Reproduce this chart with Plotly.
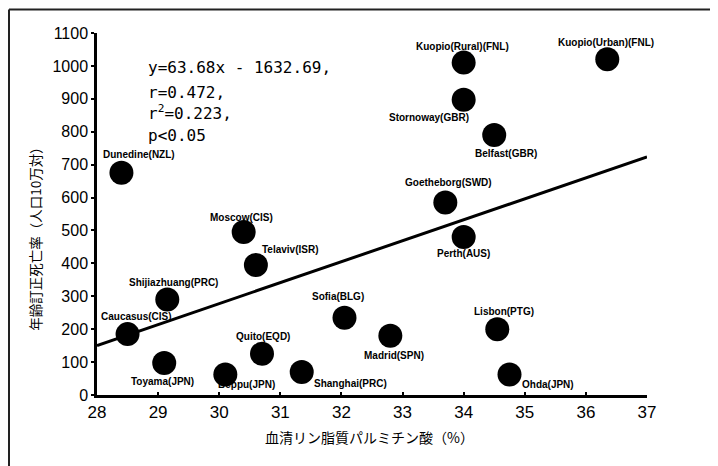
import plotly.graph_objects as go

# ---- data ----
sites = ["Dunedine(NZL)", "Moscow(CIS)", "Telaviv(ISR)", "Shijiazhuang(PRC)", "Caucasus(CIS)",
         "Toyama(JPN)", "Beppu(JPN)", "Quito(EQD)", "Shanghai(PRC)", "Sofia(BLG)",
         "Madrid(SPN)", "Lisbon(PTG)", "Ohda(JPN)", "Perth(AUS)", "Goetheborg(SWD)",
         "Belfast(GBR)", "Stornoway(GBR)", "Kuopio(Rural)(FNL)", "Kuopio(Urban)(FNL)"]
palmitic = [28.4, 30.4, 30.6, 29.15, 28.5,
            29.1, 30.1, 30.7, 31.35, 32.05,
            32.8, 34.55, 34.75, 34.0, 33.7,
            34.5, 34.0, 34.0, 36.35]
mortality = [675, 495, 395, 290, 185,
             97, 62, 125, 70, 235,
             180, 200, 62, 480, 585,
             790, 897, 1010, 1020]
slope, intercept = 63.68, -1632.69
line_x = [28, 37]
x_ticks = [28, 29, 30, 31, 32, 33, 34, 35, 36, 37]
y_ticks = [0, 100, 200, 300, 400, 500, 600, 700, 800, 900, 1000, 1100]
stats_lines = ["y=63.68x - 1632.69,", "r=0.472,", "r<sup>2</sup>=0.223,", "p<0.05"]

# ---- label placement (pixel offsets, style only) ----
label_offsets = {
    "Dunedine(NZL)": (18, 18), "Moscow(CIS)": (-2, 15), "Telaviv(ISR)": (35, 16),
    "Shijiazhuang(PRC)": (6, 17), "Caucasus(CIS)": (9, 18), "Toyama(JPN)": (-2, -18),
    "Beppu(JPN)": (21, -10), "Quito(EQD)": (1, 17), "Shanghai(PRC)": (49, -12),
    "Sofia(BLG)": (-7, 21), "Madrid(SPN)": (4, -20), "Lisbon(PTG)": (7, 18),
    "Ohda(JPN)": (38, -10), "Perth(AUS)": (0, -16), "Goetheborg(SWD)": (3, 20),
    "Belfast(GBR)": (12, -18), "Stornoway(GBR)": (-35, -18),
    "Kuopio(Rural)(FNL)": (-1, 16), "Kuopio(Urban)(FNL)": (-1, 17),
}

fig = go.Figure()
fig.add_trace(go.Scatter(
    x=line_x, y=[slope * v + intercept for v in line_x], mode="lines",
    line=dict(color="black", width=3), hoverinfo="skip", showlegend=False))
fig.add_trace(go.Scatter(
    x=palmitic, y=mortality, mode="markers", text=sites,
    marker=dict(size=24, color="black"), showlegend=False))

annotations = []
for s, xv, yv in zip(sites, palmitic, mortality):
    dx, dy = label_offsets[s]
    annotations.append(dict(x=xv, y=yv, xref="x", yref="y", text=s, showarrow=False,
                            xshift=dx, yshift=dy,
                            font=dict(family="Liberation Sans, Arial", size=10,
                                      color="black", weight="bold")))

stat_y = [995, 920, 857, 790]
for t, yy in zip(stats_lines, stat_y):
    annotations.append(dict(x=28.8, y=yy, xref="x", yref="y", text=t, showarrow=False,
                            xanchor="left", yanchor="middle",
                            font=dict(family="DejaVu Sans Mono", size=16, color="black")))

annotations.append(dict(x=-0.113, y=0.442, xref="paper", yref="paper",
                        xanchor="center", yanchor="middle",
                        text="年齢訂正死亡率（人口10万対）", textangle=-90, showarrow=False,
                        font=dict(family="Noto Sans CJK JP", size=13.5, color="black")))
annotations.append(dict(x=0.496, y=-0.116, xref="paper", yref="paper",
                        xanchor="center", yanchor="middle",
                        text="血清リン脂質パルミチン酸（%）", showarrow=False,
                        font=dict(family="Noto Sans CJK JP", size=14, color="black")))

# scan frame: top and left edges (paper coords reaching outside the plot area)
frame_left = (1 - 89) / 550
frame_top = 1 + (25 - 1.5) / 362
frame_bottom = -(71 + 20) / 362
frame_right = 1 + 80 / 550
shapes = [
    dict(type="line", xref="paper", yref="paper", x0=frame_left, x1=frame_right,
         y0=frame_top, y1=frame_top, line=dict(color="#222", width=2)),
    dict(type="line", xref="paper", yref="paper", x0=frame_left, x1=frame_left,
         y0=frame_top, y1=frame_bottom, line=dict(color="#222", width=2)),
]

fig.update_layout(
    width=710, height=458,
    margin=dict(l=89, r=71, t=25, b=71),
    paper_bgcolor="white", plot_bgcolor="white",
    annotations=annotations, shapes=shapes,
    xaxis=dict(range=[28, 37], tickvals=x_ticks, showgrid=False, zeroline=False,
               showline=True, linecolor="black", linewidth=2.5,
               ticks="inside", ticklen=3, tickwidth=2, tickcolor="black",
               ticklabelstandoff=0,
               tickfont=dict(family="Liberation Sans, Arial", size=17, color="black")),
    yaxis=dict(range=[0, 1100], tickvals=y_ticks, showgrid=False, zeroline=False,
               showline=True, linecolor="black", linewidth=2.5,
               ticks="outside", ticklen=3, tickwidth=2, tickcolor="black",
               tickfont=dict(family="Liberation Sans, Arial", size=16, color="black")),
)

fig.write_html("out.html")
